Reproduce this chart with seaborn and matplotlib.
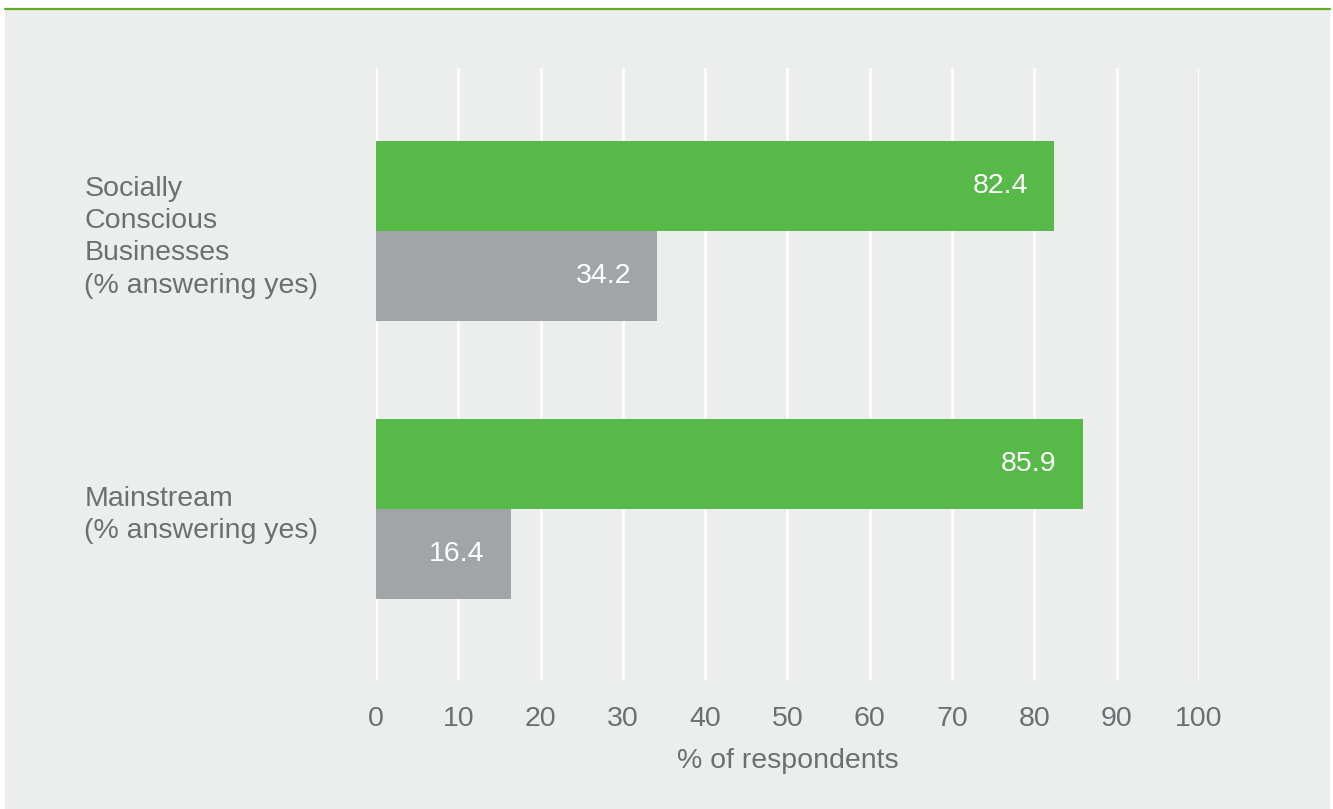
import matplotlib

matplotlib.use("Agg")
import matplotlib.pyplot as plt
import matplotlib.patches as mpatches
import matplotlib.lines as mlines
import pandas as pd
import seaborn as sns

categories = ["Socially\nConscious\nBusinesses\n(% answering yes)", "Mainstream\n(% answering yes)"]
series_names = ["Yes", "No"]
green_values = [82.4, 85.9]
grey_values = [34.2, 16.4]
x_ticks = [0, 10, 20, 30, 40, 50, 60, 70, 80, 90, 100]

GREEN = "#57b947"
GREY = "#a2a5a8"
TEXT = "#6d6e71"
BG = "#eceeed"
FS = 20.5

frame = pd.DataFrame(
    {
        "category": categories * 2,
        "series": [series_names[0]] * len(categories) + [series_names[1]] * len(categories),
        "value": green_values + grey_values,
    }
)

sns.set_theme(style="white")
plt.rcParams["font.family"] = ["Liberation Sans", "DejaVu Sans"]

fig = plt.figure(figsize=(13.33, 8.09), dpi=100, facecolor="white")
W, H = 1333, 809

# grey panel and green rule along the top
fig.patches.append(
    mpatches.Rectangle((5 / W, 0), (1330 - 5) / W, 1 - 9 / H, transform=fig.transFigure,
                       facecolor=BG, edgecolor="none", zorder=-10)
)
fig.lines.append(
    mlines.Line2D([5 / W, 1330 / W], [1 - 8.5 / H, 1 - 8.5 / H], transform=fig.transFigure,
                  color="#62ad1f", linewidth=1.6)
)

ax = fig.add_axes([376 / W, 1 - 680 / H, (1199 - 376) / W, (680 - 68) / H])
ax.set_facecolor(BG)

sns.barplot(
    data=frame, y="category", x="value", hue="series", orient="h",
    palette=[GREEN, GREY], width=0.648, dodge=True, saturation=1,
    linewidth=0, legend=False, ax=ax, zorder=3,
)

for container in ax.containers:
    for bar in container:
        val = bar.get_width()
        ax.annotate(
            f"{val:.1f}", (val, bar.get_y() + bar.get_height() / 2),
            xytext=(-19, 0), textcoords="offset points",
            ha="right", va="center", color="white", fontsize=FS,
        )

ax.set_xlim(0, 100)
ax.set_ylim(1.615, -0.586)
ax.set_xticks(x_ticks)
ax.set_xticklabels([str(t) for t in x_ticks])
for t in x_ticks:
    ax.axvline(t, color="white", linewidth=1.8, zorder=1)

for spine in ax.spines.values():
    spine.set_visible(False)

ax.tick_params(axis="x", length=0, pad=19, labelsize=FS, labelcolor=TEXT)
ax.tick_params(axis="y", length=0, pad=210, labelsize=FS, labelcolor=TEXT)
for label in ax.get_yticklabels():
    label.set_horizontalalignment("left")
    label.set_linespacing(1.32)

ax.set_ylabel("")
ax.set_xlabel("% of respondents", fontsize=FS, color=TEXT, labelpad=11)

fig.savefig("out.png", dpi=100, facecolor="white")
